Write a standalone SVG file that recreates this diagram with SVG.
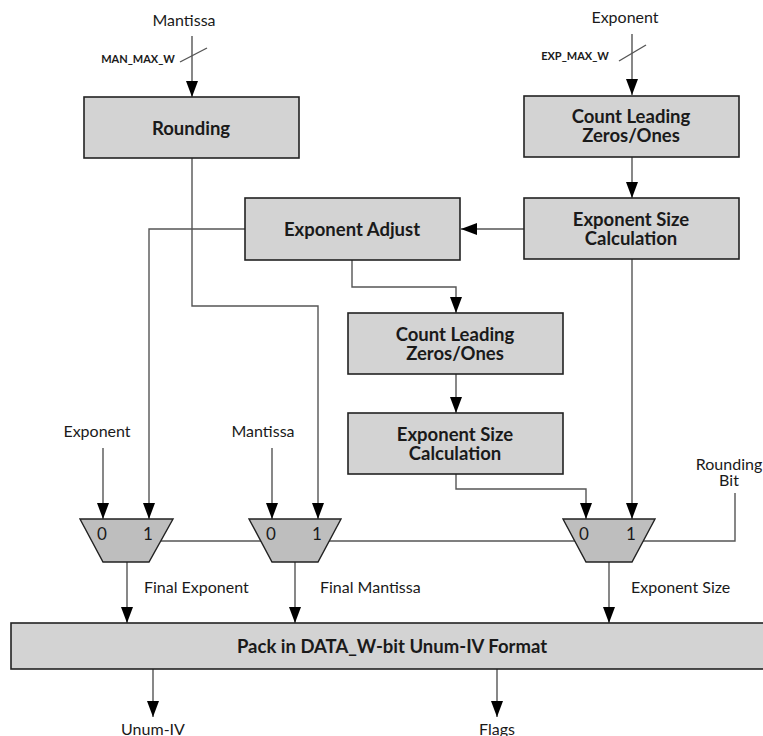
<svg xmlns="http://www.w3.org/2000/svg" width="763" height="736" viewBox="0 0 763 736">
  <style>
    .box { fill: #d3d3d3; stroke: #222; stroke-width: 1.6; }
    .mux { fill: #bebebe; stroke: #222; stroke-width: 1.4; }
    .wire { fill: none; stroke: #555; stroke-width: 1.4; }
    .arr { marker-end: url(#head); }
    .bt { font-family: Lato, "Liberation Sans", sans-serif; font-weight: bold; font-size: 18.5px; fill: #1a1a1a; text-anchor: middle; dominant-baseline: central; }
    .lbl { font-family: Lato, "Liberation Sans", sans-serif; font-size: 16px; fill: #1a1a1a; dominant-baseline: central; }
    .mid { text-anchor: middle; }
    .sm { font-family: Lato, "Liberation Sans", sans-serif; font-weight: bold; font-size: 11px; fill: #1a1a1a; text-anchor: middle; dominant-baseline: central; }
    .sel { font-family: Lato, "Liberation Sans", sans-serif; font-size: 17px; fill: #1a1a1a; text-anchor: middle; dominant-baseline: central; }
  </style>
  <defs>
    <marker id="head" viewBox="0 0 16 12" refX="16" refY="6" markerWidth="16" markerHeight="12" markerUnits="userSpaceOnUse" orient="auto">
      <path d="M0,0 L16,6 L0,12 z" fill="#000"/>
    </marker>
  </defs>

  <!-- connectors -->
  <g id="connectors">
    <!-- top inputs -->
    <path class="wire arr" d="M192,36 V97"/>
    <path class="wire" d="M180,62 L207,48"/>
    <path class="wire arr" d="M632,34 V95"/>
    <path class="wire" d="M619,61 L646,45"/>
    <!-- exponent path -->
    <path class="wire arr" d="M632,157 V198"/>
    <path class="wire arr" d="M524,229 H461"/>
    <path class="wire arr" d="M352,260 V287 H456 V313"/>
    <path class="wire arr" d="M456,374 V413"/>
    <path class="wire arr" d="M456,474 V489 H586 V519"/>
    <path class="wire arr" d="M632,259 V519"/>
    <!-- to muxes -->
    <path class="wire arr" d="M245,229 H149 V519"/>
    <path class="wire arr" d="M192,158 V306 H318 V519"/>
    <path class="wire arr" d="M103,448 V519"/>
    <path class="wire arr" d="M272,448 V519"/>
    <!-- select line -->
    <path class="wire" d="M161,541 H261 M329,541 H575 M643,541 H735 V493"/>
    <!-- mux outputs -->
    <path class="wire arr" d="M127,562 V623"/>
    <path class="wire arr" d="M295,562 V623"/>
    <path class="wire arr" d="M609,562 V623"/>
    <!-- final outputs -->
    <path class="wire arr" d="M153,669 V717"/>
    <path class="wire arr" d="M497,669 V717"/>
  </g>

  <!-- free labels -->
  <g id="labels">
    <text class="lbl mid" x="184" y="19">Mantissa</text>
    <text class="sm" x="138" y="58">MAN_MAX_W</text>
    <text class="lbl mid" x="625" y="16">Exponent</text>
    <text class="sm" x="575" y="55">EXP_MAX_W</text>
    <text class="lbl mid" x="97" y="430">Exponent</text>
    <text class="lbl mid" x="263" y="430">Mantissa</text>
    <text class="lbl mid" x="729" y="463">Rounding<tspan x="729" dy="16">Bit</tspan></text>
    <text class="lbl" x="144" y="586">Final Exponent</text>
    <text class="lbl" x="320" y="586">Final Mantissa</text>
    <text class="lbl" x="631" y="586">Exponent Size</text>
    <text class="lbl mid" x="153" y="728">Unum-IV</text>
    <text class="lbl mid" x="497" y="728">Flags</text>
  </g>

  <g id="rounding">
    <rect class="box" x="84" y="97" width="215" height="61"/>
    <text class="bt" x="191" y="128">Rounding</text>
  </g>

  <g id="clz-top">
    <rect class="box" x="524" y="96" width="215" height="61"/>
    <text class="bt" x="631" y="116">Count Leading<tspan x="631" dy="19">Zeros/Ones</tspan></text>
  </g>

  <g id="expsize-top">
    <rect class="box" x="524" y="198" width="215" height="61"/>
    <text class="bt" x="631" y="219">Exponent Size<tspan x="631" dy="19">Calculation</tspan></text>
  </g>

  <g id="exp-adjust">
    <rect class="box" x="245" y="198" width="215" height="62"/>
    <text class="bt" x="352" y="229">Exponent Adjust</text>
  </g>

  <g id="clz-mid">
    <rect class="box" x="348" y="313" width="215" height="61"/>
    <text class="bt" x="455" y="334">Count Leading<tspan x="455" dy="19">Zeros/Ones</tspan></text>
  </g>

  <g id="expsize-mid">
    <rect class="box" x="348" y="413" width="215" height="61"/>
    <text class="bt" x="455" y="434">Exponent Size<tspan x="455" dy="19">Calculation</tspan></text>
  </g>

  <g id="mux-exp">
    <polygon class="mux" points="80,519 173,519 149,562 103,562"/>
    <text class="sel" x="102" y="533">0</text>
    <text class="sel" x="148" y="533">1</text>
  </g>

  <g id="mux-man">
    <polygon class="mux" points="249,519 341,519 318,562 272,562"/>
    <text class="sel" x="271" y="533">0</text>
    <text class="sel" x="317" y="533">1</text>
  </g>

  <g id="mux-size">
    <polygon class="mux" points="563,519 655,519 632,562 586,562"/>
    <text class="sel" x="584" y="533">0</text>
    <text class="sel" x="631" y="533">1</text>
  </g>

  <g id="pack">
    <rect class="box" x="11" y="623" width="764" height="46"/>
    <text class="bt" x="392" y="646">Pack in DATA_W-bit Unum-IV Format</text>
  </g>
</svg>
